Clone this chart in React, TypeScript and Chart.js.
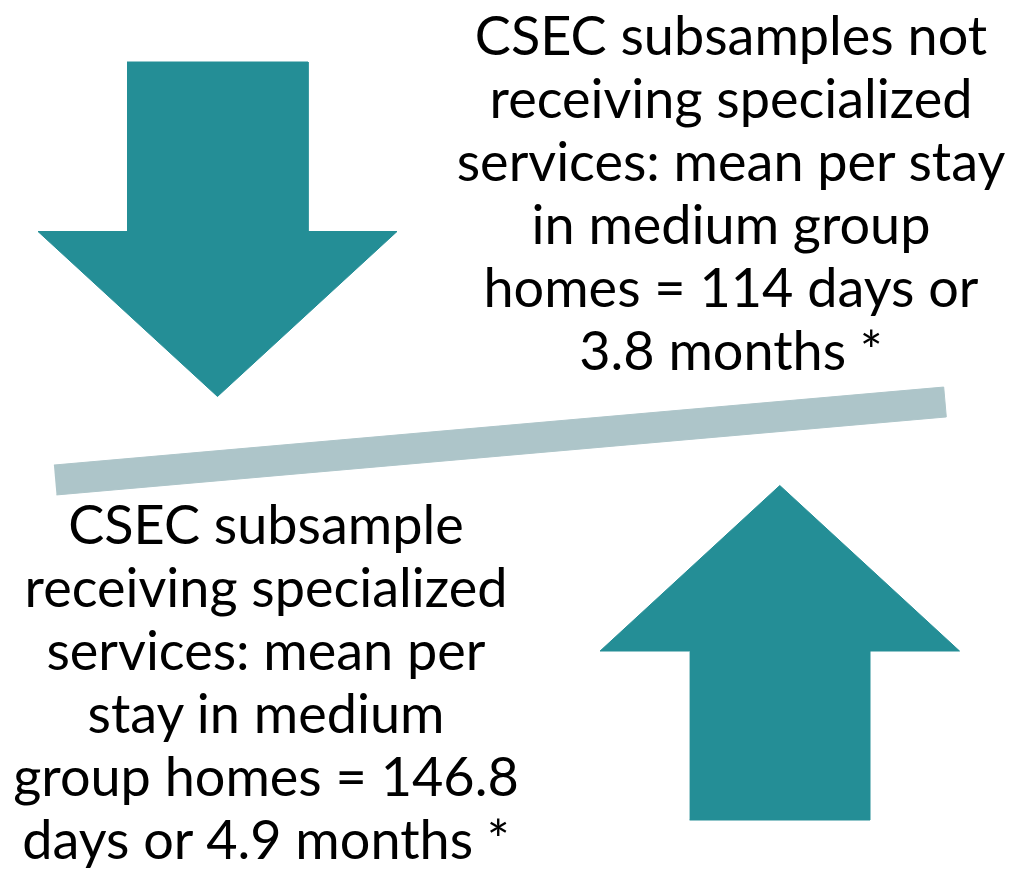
import React, { useEffect, useRef } from "react";
import { Chart, registerables } from "chart.js";

Chart.register(...registerables);

// ---- data ----
const groups = ["not receiving specialized services", "receiving specialized services"];
const meanDays = [114, 146.8];
const meanMonths = [3.8, 4.9];

// ---- shape geometry (plot units = canvas pixels) ----
const W = 1018;
const H = 872;
// arrow: [centerX, shaftHalfWidth, headHalfWidth, baseY (shaft end), shoulderY, tipY]
const downArrow = [217.5, 90.5, 179.5, 62, 231.5, 396.5];
const upArrow = [779.8, 90.2, 179.7, 820, 651, 485.5];
// balance beam: left end & right end (centre of the bar ends), thickness
const beamLeft = [55.2, 480];
const beamRight = [945, 402];
const beamThickness = 30;

const TEAL = "rgb(36,142,150)";
const BEAM = "rgb(173,197,201)";

function arrowPolygon(a: number[]) {
  const [cx, sw, hw, base, shoulder, tip] = a;
  return [
    { x: cx - sw, y: base },
    { x: cx + sw, y: base },
    { x: cx + sw, y: shoulder },
    { x: cx + hw, y: shoulder },
    { x: cx, y: tip },
    { x: cx - hw, y: shoulder },
    { x: cx - sw, y: shoulder },
  ];
}

function beamPolygon() {
  const [x1, y1] = beamLeft;
  const [x2, y2] = beamRight;
  const dx = x2 - x1;
  const dy = y2 - y1;
  const len = Math.hypot(dx, dy);
  const nx = (-dy / len) * (beamThickness / 2);
  const ny = (dx / len) * (beamThickness / 2);
  return [
    { x: x1 - nx, y: y1 - ny },
    { x: x2 - nx, y: y2 - ny },
    { x: x2 + nx, y: y2 + ny },
    { x: x1 + nx, y: y1 + ny },
  ];
}

const topLines = [
  "CSEC subsamples not",
  "receiving specialized",
  "services: mean per stay",
  "in medium group",
  `homes = ${meanDays[0]} days or`,
  `${meanMonths[0]} months *`,
];
const bottomLines = [
  "CSEC subsample",
  "receiving specialized",
  "services: mean per",
  "stay in medium",
  `group homes = ${meanDays[1]}`,
  `days or ${meanMonths[1]} months *`,
];

export default function App() {
  const ref = useRef<HTMLCanvasElement | null>(null);

  useEffect(() => {
    document.body.style.margin = "0";
    const ctx = ref.current!;
    const shape = (data: { x: number; y: number }[], color: string, label: string) => ({
      label,
      data,
      showLine: true,
      fill: "shape" as const,
      backgroundColor: color,
      borderColor: color,
      borderWidth: 1,
      pointRadius: 0,
      pointHoverRadius: 0,
      tension: 0,
    });
    const chart = new Chart(ctx, {
      type: "scatter",
      data: {
        datasets: [
          shape(beamPolygon(), BEAM, "balance"),
          shape(arrowPolygon(downArrow), TEAL, groups[0]),
          shape(arrowPolygon(upArrow), TEAL, groups[1]),
        ],
      },
      options: {
        responsive: false,
        animation: false,
        events: [],
        layout: { padding: 0 },
        scales: {
          x: { type: "linear", min: 0, max: W, display: false },
          y: { type: "linear", min: 0, max: H, reverse: true, display: false },
        },
        plugins: {
          legend: { display: false },
          tooltip: { enabled: false },
          title: { display: false },
        },
      },
    });
    return () => chart.destroy();
  }, []);

  const textStyle: React.CSSProperties = {
    position: "absolute",
    fontFamily: "Lato, 'Open Sans', sans-serif",
    fontSize: 54,
    lineHeight: "63px",
    color: "#000",
    textAlign: "center",
    whiteSpace: "pre",
  };

  return (
    <div style={{ position: "relative", width: W, height: H, overflow: "hidden", background: "#fff" }}>
      <canvas ref={ref} width={W} height={H} style={{ position: "absolute", left: 0, top: 0 }} />
      <div style={{ ...textStyle, left: 431, width: 600, top: 2.6 }}>
        {topLines.map((l, i) => (
          <div key={i}>{l}</div>
        ))}
      </div>
      <div style={{ ...textStyle, left: 0, width: 532, top: 491.6 }}>
        {bottomLines.map((l, i) => (
          <div key={i}>{l}</div>
        ))}
      </div>
    </div>
  );
}
